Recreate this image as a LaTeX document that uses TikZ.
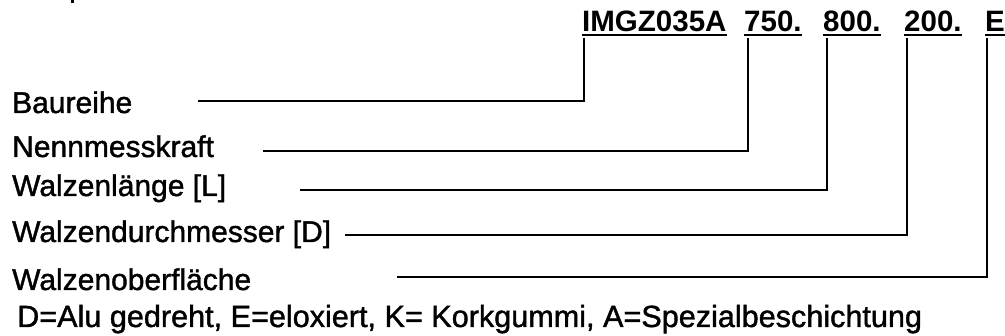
\documentclass[tikz,border=0pt]{standalone}
\usepackage{fontspec}
\setmainfont{Liberation Sans}
\newfontfamily\lblfont[FakeBold=1.3]{Liberation Sans}
\begin{document}
\begin{tikzpicture}[x=1pt,y=-1pt,
  lbl/.style={anchor=base west, inner sep=0pt, font=\lblfont\fontsize{30}{36}\selectfont},
  note/.style={anchor=base west, inner sep=0pt, font=\lblfont\fontsize{30.6}{36}\selectfont},
  code/.style={anchor=base west, inner sep=0pt, font=\fontsize{29.5}{35}\selectfont\bfseries},
  ln/.style={line width=2.4pt},
  ul/.style={line width=2pt}]
\useasboundingbox (0,0) rectangle (1005,336);
\fill (71,0) rectangle (74,3);
% codes
\node[code] (c1) at (582,32) {IMGZ035A};
\node[code] (c2) at (744,32) {750.};
\node[code] (c3) at (823,32) {800.};
\node[code] (c4) at (904,32) {200.};
\node[code] (c5) at (985,32) {E};
\foreach \n in {c1,c2,c3,c4,c5}
  \draw[ul] ([yshift=-3pt]\n.base west) -- ([yshift=-3pt]\n.base east);
% labels
\node[lbl] (l1) at (12,113) {Baureihe};
\node[lbl] (l2) at (12,157) {Nennmesskraft};
\node[lbl] (l3) at (12,196) {Walzenlänge [L]};
\node[lbl] (l4) at (12,242) {Walzendurchmesser [D]};
\node[lbl] (l5) at (12,290) {Walzenoberfläche};
\node[note] (l6) at (17,327) {D=Alu gedreht, E=eloxiert, K= Korkgummi, A=Spezialbeschichtung};
% line ends
\coordinate (e1) at (198,101);
\coordinate (e2) at (263,151);
\coordinate (e3) at (300,190);
\coordinate (e4) at (345,235);
\coordinate (e5) at (397,277);
% connectors
\draw[ln] ([xshift=2pt,yshift=-6pt]c1.base west) |- (e1);
\draw[ln] ([xshift=4pt,yshift=-6pt]c2.base west) |- (e2);
\draw[ln] ([xshift=4pt,yshift=-6pt]c3.base west) |- (e3);
\draw[ln] ([xshift=3pt,yshift=-6pt]c4.base west) |- (e4);
\draw[ln] ([xshift=2pt,yshift=-6pt]c5.base west) |- (e5);
\end{tikzpicture}
\end{document}
